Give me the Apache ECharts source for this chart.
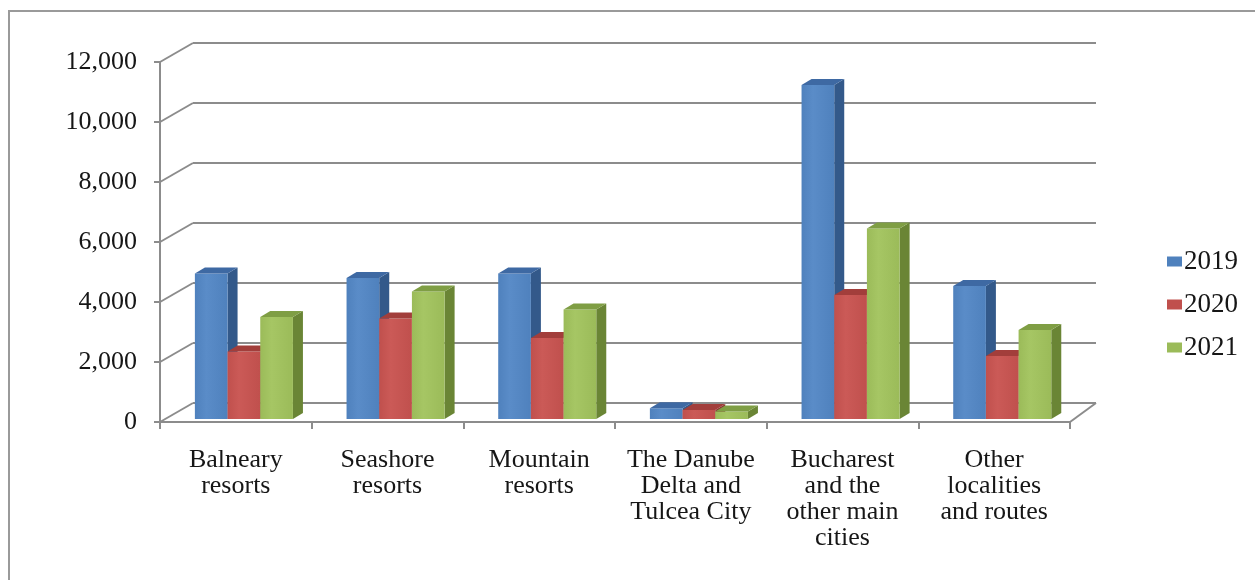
<!DOCTYPE html>
<html>
<head>
<meta charset="utf-8">
<script src="https://cdn.jsdelivr.net/npm/echarts@6/dist/echarts.min.js"></script>
<style>
  html, body { margin: 0; padding: 0; background: #fff; }
  #chart { width: 1255px; height: 580px; }
</style>
</head>
<body>
<div id="chart"></div>
<script>
// Tourist arrivals by destination type (thousands), 2019-2021
const categories = [
  'Balneary\nresorts',
  'Seashore\nresorts',
  'Mountain\nresorts',
  'The Danube\nDelta and\nTulcea City',
  'Bucharest\nand the\nother main\ncities',
  'Other\nlocalities\nand routes'
];
const seriesNames = ['2019', '2020', '2021'];
const values2019 = [4850, 4700, 4850, 360, 11130, 4430];
const values2020 = [2250, 3350, 2700, 300, 4130, 2100];
const values2021 = [3400, 4250, 3650, 250, 6350, 2970];
const yTickValues = [0, 2000, 4000, 6000, 8000, 10000, 12000];
const yTickLabels = ['0', '2,000', '4,000', '6,000', '8,000', '10,000', '12,000'];

// face colours: front, right side, top
const palette = [
  { front: '#4F81BD', light: '#5A8CC8', side: '#33598A', top: '#3E69A3' },
  { front: '#C0504D', light: '#CB5A57', side: '#8A3533', top: '#A23E3B' },
  { front: '#9BBB59', light: '#A6C664', side: '#6A8535', top: '#7F9E44' }
];

// oblique projection of the chart box
const WALL_DX = 33, WALL_DY = -19;   // depth of floor / side wall
const BAR_OX = 0, BAR_OY = -3;       // bar row set back from the front edge
const BAR_DX = 10, BAR_DY = -6;      // depth of each column
const BAR_W = 0.2155;                // column width as a share of the category band
const GROUP_START = -0.27;           // first column's left edge, relative to band centre

const FONT = '"Liberation Serif", "Times New Roman", serif';
const GRID_COLOR = '#8c8c8c';
const TEXT_COLOR = '#161616';

function barRenderer(s) {
  return function (params, api) {
    const cat = api.value(0);
    const top = api.coord([cat, api.value(1)]);
    const base = api.coord([cat, 0]);
    const band = api.size([1, 0])[0];
    const w = band * BAR_W;
    const x = top[0] + band * GROUP_START + s * w + BAR_OX;
    const yT = top[1] + BAR_OY;
    const yB = base[1] + BAR_OY;
    const c = palette[s];
    return {
      type: 'group',
      children: [
        {
          type: 'polygon',
          shape: { points: [[x + w, yT], [x + w + BAR_DX, yT + BAR_DY], [x + w + BAR_DX, yB + BAR_DY], [x + w, yB]] },
          style: { fill: c.side }
        },
        {
          type: 'rect',
          shape: { x: x, y: yT, width: w, height: yB - yT },
          style: {
            fill: new echarts.graphic.LinearGradient(0, 0, 1, 0, [
              { offset: 0, color: c.front },
              { offset: 0.35, color: c.light },
              { offset: 1, color: c.front }
            ])
          }
        },
        {
          type: 'polygon',
          shape: { points: [[x, yT], [x + BAR_DX, yT + BAR_DY], [x + w + BAR_DX, yT + BAR_DY], [x + w, yT]] },
          style: { fill: c.top }
        }
      ]
    };
  };
}

// side-wall and floor edges joining the front axes to the back wall
function wallRenderer(params, api) {
  const v = api.value(0);
  const p = api.coord([0, v]);
  const cs = params.coordSys;
  const x0 = cs.x;
  const lines = [{
    type: 'line',
    shape: { x1: x0, y1: p[1], x2: x0 + WALL_DX, y2: p[1] + WALL_DY },
    style: { stroke: GRID_COLOR, lineWidth: 2 }
  }];
  if (v === 0) {
    const xr = cs.x + cs.width;
    lines.push({
      type: 'line',
      shape: { x1: xr, y1: p[1], x2: xr + 26, y2: p[1] + WALL_DY },
      style: { stroke: GRID_COLOR, lineWidth: 2 }
    });
  }
  return { type: 'group', children: lines };
}

const allValues = [values2019, values2020, values2021];

const option = {
  animation: false,
  backgroundColor: '#ffffff',
  graphic: [{
    type: 'rect',
    shape: { x: 9, y: 11, width: 1300, height: 620 },
    style: { fill: 'none', stroke: '#9a9a9a', lineWidth: 2 },
    z: -10
  }],
  legend: {
    orient: 'vertical',
    left: 1162,
    top: 243,
    icon: 'rect',
    itemWidth: 15,
    itemHeight: 10,
    itemGap: 16,
    data: seriesNames,
    textStyle: { fontFamily: FONT, fontSize: 27, lineHeight: 24, color: TEXT_COLOR, padding: [0, 0, 0, -3] }
  },
  grid: [
    { left: 160, top: 62, width: 910, height: 360 },
    { left: 193, top: 43, width: 903, height: 360 }
  ],
  xAxis: [
    {
      type: 'category',
      gridIndex: 0,
      data: categories,
      axisLine: { show: true, lineStyle: { color: GRID_COLOR, width: 2 } },
      axisTick: { show: true, length: 7, lineStyle: { color: GRID_COLOR, width: 2 } },
      axisLabel: {
        interval: 0,
        margin: 25,
        fontFamily: FONT,
        fontSize: 26,
        lineHeight: 26,
        color: TEXT_COLOR
      },
      splitLine: { show: false }
    },
    {
      type: 'category',
      gridIndex: 1,
      data: categories,
      show: false
    }
  ],
  yAxis: [
    {
      type: 'value',
      gridIndex: 0,
      min: 0, max: 12000, interval: 2000,
      axisLine: { show: true, lineStyle: { color: GRID_COLOR, width: 2 } },
      axisTick: { show: true, length: 6, lineStyle: { color: GRID_COLOR, width: 2 } },
      axisLabel: {
        margin: 23,
        fontFamily: FONT,
        fontSize: 26,
        color: TEXT_COLOR,
        formatter: function (v) { return yTickLabels[yTickValues.indexOf(v)]; }
      },
      splitLine: { show: false }
    },
    {
      type: 'value',
      gridIndex: 1,
      min: 0, max: 12000, interval: 2000,
      axisLine: { show: false },
      axisTick: { show: false },
      axisLabel: { show: false },
      splitLine: { show: true, lineStyle: { color: GRID_COLOR, width: 2 } }
    }
  ],
  series: [
    {
      type: 'custom',
      name: 'walls',
      xAxisIndex: 0, yAxisIndex: 0,
      renderItem: wallRenderer,
      data: yTickValues.map(v => [v]),
      encode: { y: 0 },
      silent: true,
      z: 1
    }
  ].concat(seriesNames.map((name, s) => ({
    type: 'custom',
    name: name,
    xAxisIndex: 0, yAxisIndex: 0,
    itemStyle: { color: palette[s].front },
    renderItem: barRenderer(s),
    data: allValues[s].map((v, i) => [i, v]),
    encode: { x: 0, y: 1 },
    z: 5 + s
  })))
};

const chart = echarts.init(document.getElementById('chart'), null, { renderer: 'canvas' });
chart.setOption(option);
</script>
</body>
</html>
